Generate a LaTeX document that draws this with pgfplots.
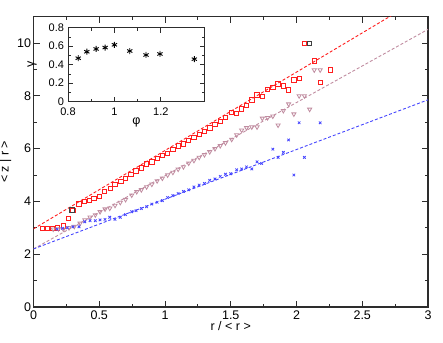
\documentclass[border=0pt]{standalone}
\usepackage{fontspec}
\setmainfont{Liberation Sans}
\usepackage{pgfplots}
\pgfplotsset{compat=1.18}
\definecolor{clrRed}{RGB}{255,30,30}
\definecolor{clrMauve}{RGB}{192,140,160}
\definecolor{clrBlue}{RGB}{70,70,255}
\definecolor{clrAxis}{RGB}{45,45,45}

\begin{document}
\begin{tikzpicture}
% main panel
\begin{axis}[
  at={(33.5pt,35pt)}, anchor=south west,
  width=394.5pt, height=290.3pt, scale only axis,
  xmin=0, xmax=3, ymin=0, ymax=11,
  xtick={0,0.5,1,1.5,2,2.5,3},
  ytick={0,2,4,6,8,10},
  minor x tick num=1, minor y tick num=1,
  xtick pos=both, ytick pos=both,
  tick align=inside,
  major tick length=6pt, minor tick length=3.5pt,
  axis line style={clrAxis, line width=1.2pt},
  every tick/.style={clrAxis, line width=1pt},
  tick label style={font=\fontsize{12.5}{13}\selectfont},
  /pgf/number format/assume math mode=true,
  xticklabel style={yshift=-0.5pt},
  yticklabel style={xshift=1pt},
  xlabel={r / < r >}, ylabel={< z | r >},
  label style={font=\fontsize{12.5}{13}\selectfont},
  xlabel style={yshift=5pt},
  ylabel style={yshift=-1pt},
]
% fitted lines
\addplot[clrRed, line width=0.9pt, dash pattern=on 3pt off 2pt] coordinates {(0,2.96) (3,11.87)};
\addplot[clrMauve, line width=0.9pt, dash pattern=on 3pt off 2pt] coordinates {(0,2.2) (3,10.52)};
\addplot[clrBlue, line width=0.9pt, dash pattern=on 3pt off 2pt] coordinates {(0,2.2) (3,7.85)};
% red squares
\addplot[only marks, mark=square, mark size=2.2pt, clrRed, mark options={line width=0.8pt}] coordinates {
(0.067,2.98) (0.105,2.98) (0.143,2.98) (0.18,3.00) (0.227,3.07) (0.265,3.36)
(0.30,3.67) (0.346,3.90) (0.386,3.99) (0.424,4.05) (0.46,4.12) (0.50,4.18)
(0.54,4.37) (0.584,4.50) (0.62,4.65) (0.665,4.75) (0.70,4.87) (0.74,5.03)
(0.78,5.15) (0.82,5.27) (0.86,5.42) (0.90,5.50) (0.94,5.63) (0.98,5.75)
(1.02,5.83) (1.06,5.97) (1.10,6.10) (1.14,6.18) (1.18,6.32) (1.22,6.43)
(1.26,6.55) (1.30,6.66) (1.34,6.78) (1.38,6.92) (1.42,7.03) (1.46,7.18)
(1.507,7.37) (1.545,7.34) (1.583,7.50) (1.62,7.65) (1.66,7.84) (1.70,8.03)
(1.74,7.97) (1.78,8.25) (1.82,8.32) (1.86,8.45) (1.90,8.38) (1.94,8.22)
(1.98,8.60) (2.02,8.66) (2.06,9.99) (2.10,9.99) (2.135,9.32) (2.18,8.50)
(2.26,8.98)
};
\addplot[only marks, mark=square, mark size=2.2pt, black!75, mark options={line width=0.8pt}] coordinates {
(0.293,3.68) (2.10,9.99)
};
% mauve triangles
\addplot[only marks, mark=triangle, mark size=2.4pt, clrMauve, mark options={rotate=180, line width=0.8pt}] coordinates {
(0.15,2.95) (0.19,2.96) (0.227,2.95) (0.27,3.00) (0.31,3.05) (0.354,3.17)
(0.39,3.30) (0.43,3.40) (0.47,3.49) (0.506,3.61) (0.544,3.71) (0.58,3.74)
(0.62,3.85) (0.66,3.96) (0.70,4.07) (0.747,4.24) (0.785,4.37) (0.82,4.44)
(0.86,4.55) (0.90,4.65) (0.94,4.78) (0.98,4.88) (1.02,5.00) (1.06,5.10)
(1.10,5.22) (1.14,5.31) (1.18,5.45) (1.22,5.55) (1.26,5.67) (1.30,5.77)
(1.34,5.88) (1.38,6.00) (1.42,6.11) (1.46,6.22) (1.507,6.35) (1.545,6.52)
(1.583,6.70) (1.62,6.79) (1.66,6.82) (1.70,6.82) (1.74,7.15) (1.78,7.17)
(1.82,7.23) (1.86,6.89) (1.90,7.44) (1.94,7.69) (1.98,7.31) (2.02,8.00)
(2.06,8.00) (2.10,7.49) (2.135,8.98) (2.18,8.98)
};
% blue crosses
\addplot[only marks, mark=x, mark size=1.8pt, clrBlue, mark options={line width=0.8pt}] coordinates {
(0.18,2.95) (0.22,2.98) (0.257,3.00) (0.30,3.04) (0.346,3.04) (0.39,3.23)
(0.43,3.27) (0.47,3.27) (0.506,3.30) (0.544,3.32) (0.58,3.40) (0.62,3.32)
(0.66,3.40) (0.70,3.50) (0.747,3.61) (0.78,3.65) (0.82,3.73) (0.86,3.80)
(0.90,3.90) (0.94,3.97) (0.98,4.03) (1.02,4.15) (1.06,4.22) (1.10,4.30)
(1.14,4.38) (1.18,4.44) (1.22,4.55) (1.26,4.62) (1.30,4.68) (1.34,4.80)
(1.38,4.85) (1.42,4.95) (1.46,5.03) (1.50,5.05) (1.545,5.20) (1.583,5.23)
(1.62,5.31) (1.66,5.23) (1.70,5.50) (1.735,5.44) (1.82,5.98) (1.86,5.67)
(1.90,5.86) (1.94,6.33) (1.98,5.00) (2.02,6.98) (2.06,5.67) (2.18,6.98)
};
\end{axis}

% inset
\begin{axis}[
  at={(68pt,240.3pt)}, anchor=south west,
  width=137pt, height=74pt, scale only axis,
  axis background/.style={fill=white},
  xmin=0.8, xmax=1.39, ymin=0, ymax=0.8,
  xtick={0.8,1,1.2},
  ytick={0,0.2,0.4,0.6,0.8},
  minor x tick num=1, minor y tick num=1,
  xtick pos=both, ytick pos=both,
  tick align=inside,
  major tick length=5pt, minor tick length=3pt,
  axis line style={clrAxis, line width=1pt},
  every tick/.style={clrAxis, line width=0.8pt},
  tick label style={font=\fontsize{11}{12}\selectfont},
  /pgf/number format/assume math mode=true,
  yticklabel style={xshift=-0.5pt},
  xticklabel style={yshift=-2.5pt},
  xlabel={φ}, ylabel={γ},
  label style={font=\fontsize{12.5}{13}\selectfont},
  xlabel style={yshift=4.5pt},
  ylabel style={yshift=5pt},
]
\addplot[only marks, mark=asterisk, mark size=3pt, black, mark options={line width=0.9pt}] coordinates {
(0.844,0.47) (0.881,0.54) (0.921,0.57) (0.96,0.585) (1.0,0.615)
(1.066,0.548) (1.136,0.505) (1.196,0.516) (1.344,0.46)
};
\end{axis}

\pgfresetboundingbox
\path[use as bounding box] (0,0) rectangle (443pt,342pt);
\end{tikzpicture}
\end{document}
